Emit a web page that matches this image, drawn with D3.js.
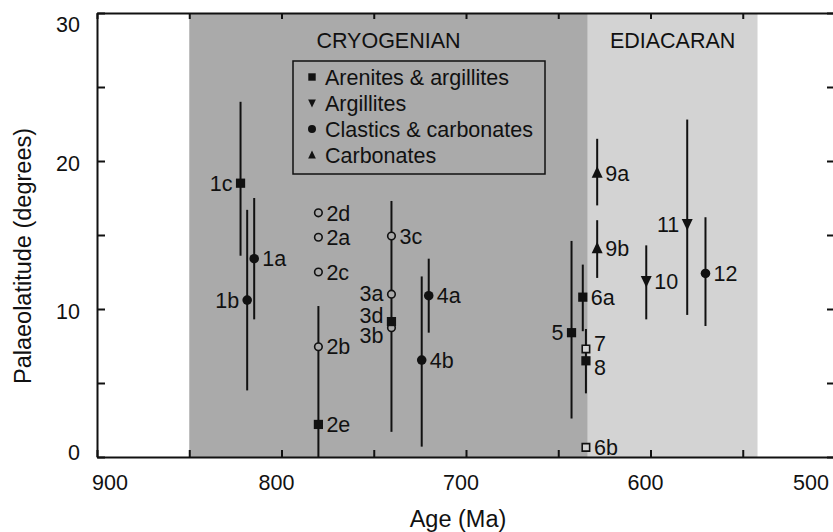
<!DOCTYPE html>
<html>
<head>
<meta charset="utf-8">
<script src="https://cdn.jsdelivr.net/npm/d3@7"></script>
<style>
  body { margin: 0; background: #fff; }
  text { font-family: "Liberation Sans", Arial, Helvetica, sans-serif; fill: #111; }
</style>
</head>
<body>
<div id="canvas"></div>
<script>
// sample ids, ages (Ma), palaeolatitudes and error ranges
const ids   = ["1a","1b","1c","2a","2b","2c","2d","2e","3a","3b","3c","3d","4a","4b","5","6a","6b","7","8","9a","9b","10","11","12"];
const ages  = [814.8,818.6,822.2,780,780,780,780,780,740.4,740.4,740.4,740.4,720.2,724,642.8,636.7,635,635,635,628.9,628.9,602.3,580.1,570.2];
const lats  = [13.4,10.6,18.5,14.85,7.45,12.5,16.5,2.2,11.0,8.74,14.93,9.15,10.9,6.55,8.4,10.8,0.65,7.3,6.5,19.2,14.1,11.9,15.75,12.4];
const latLo = [9.3,4.5,13.6,null,0,null,null,null,null,null,1.7,null,8.4,0.7,2.6,8.5,null,4.3,null,17.0,12.1,9.3,9.6,8.85];
const latHi = [17.5,16.7,24.0,null,10.2,null,null,null,null,null,17.3,null,13.4,12.2,14.6,13.0,null,8.65,null,21.5,16.0,14.3,22.8,16.2];
// lithology: aa = arenites & argillites, arg = argillites, cc = clastics & carbonates, carb = carbonates
const lith  = ["cc","cc","aa","cc","cc","cc","cc","aa","cc","cc","cc","aa","cc","cc","aa","aa","aa","aa","aa","carb","carb","arg","arg","cc"];
const filled = [1,1,1,0,0,0,0,1,0,0,0,1,1,1,1,1,0,0,1,1,1,1,1,1];
const labelLeft = ["1b","1c","3a","3b","3d","5","11"];

const periods = [
  {name: "CRYOGENIAN", from: 850, to: 634},
  {name: "EDIACARAN", from: 634, to: 542}
];
const legendNames = ["Arenites & argillites", "Argillites", "Clastics & carbonates", "Carbonates"];
const legendKeys = ["aa", "arg", "cc", "carb"];
const xTicks = [900, 800, 700, 600, 500];
const yTicks = [0, 10, 20, 30];

// layout
const W = 833, H = 532;
const x0 = 97, x1 = 835, y0 = 457, y1 = 13;
const dark = "#aaaaaa", light = "#d3d3d3";
const fs = 21.5;
const labelNudge = {"3a": -1, "3d": -6, "3b": 8, "7": -6, "8": 6};

const svg = d3.select("#canvas").append("svg")
  .attr("width", W).attr("height", H);

const x = d3.scaleLinear().domain([900, 500]).range([x0, x1]);
const y = d3.scaleLinear().domain([0, 30]).range([y0, y1]);

// period shading
svg.append("g").selectAll("rect").data(periods).enter().append("rect")
  .attr("x", d => x(d.from))
  .attr("y", y1)
  .attr("width", d => x(d.to) - x(d.from))
  .attr("height", y0 - y1)
  .attr("fill", (d, i) => i === 0 ? dark : light);

svg.append("g").selectAll("text").data(periods).enter().append("text")
  .attr("x", d => (x(d.from) + x(d.to)) / 2)
  .attr("y", 48)
  .attr("text-anchor", "middle")
  .attr("font-size", fs)
  .text(d => d.name);

// axes (ticks inward, labels drawn separately)
function styleAxis(g) {
  g.selectAll("path").attr("stroke", "#111").attr("stroke-width", 2);
  g.selectAll("line").attr("stroke", "#111").attr("stroke-width", 2);
  g.selectAll("text").remove();
}
const xt = d3.range(900, 499, -50);
const yt = d3.range(0, 31, 5);
svg.append("g").attr("transform", `translate(0,${y0})`)
  .call(d3.axisBottom(x).tickValues(xt).tickSizeInner(-7).tickSizeOuter(0)).call(styleAxis);
svg.append("g").attr("transform", `translate(0,${y1})`)
  .call(d3.axisTop(x).tickValues(xt).tickSizeInner(-6).tickSizeOuter(0)).call(styleAxis);
svg.append("g").attr("transform", `translate(${x0},0)`)
  .call(d3.axisLeft(y).tickValues(yt).tickSizeInner(-8).tickSizeOuter(0)).call(styleAxis);
svg.append("g").attr("transform", `translate(${x1},0)`)
  .call(d3.axisRight(y).tickValues(yt).tickSizeInner(-8).tickSizeOuter(0)).call(styleAxis);

svg.append("g").selectAll("text").data(xTicks).enter().append("text")
  .attr("x", d => Math.max(x0 + 13, Math.min(x1 - 24, x(d) - 5)))
  .attr("y", 490)
  .attr("text-anchor", "middle")
  .attr("font-size", fs)
  .text(d => d);

svg.append("g").selectAll("text").data(yTicks).enter().append("text")
  .attr("x", 80)
  .attr("y", d => Math.max(32, Math.min(460, y(d) + 10)))
  .attr("text-anchor", "end")
  .attr("font-size", fs)
  .text(d => d);

svg.append("text")
  .attr("x", 458).attr("y", 527)
  .attr("text-anchor", "middle")
  .attr("font-size", 23.5)
  .text("Age (Ma)");

svg.append("text")
  .attr("transform", "translate(31,256) rotate(-90)")
  .attr("text-anchor", "middle")
  .attr("font-size", 23.5)
  .text("Palaeolatitude (degrees)");

// symbols
function symbolPath(key, size) {
  if (key === "aa") return d3.symbol(d3.symbolSquare, size)();
  if (key === "cc") return d3.symbol(d3.symbolCircle, size)();
  if (key === "carb") return "M0,-6.5L5.5,5L-5.5,5Z";
  return "M0,6.5L5.5,-5L-5.5,-5Z";
}

// legend
const lg = svg.append("g");
lg.append("rect")
  .attr("x", 293).attr("y", 61).attr("width", 252).attr("height", 113)
  .attr("fill", "none").attr("stroke", "#111").attr("stroke-width", 1.5);
legendNames.forEach((n, i) => {
  const ly = 77 + i * 26;
  const k = legendKeys[i];
  lg.append("path")
    .attr("transform", `translate(312,${ly})` + (k === "carb" || k === "arg" ? " scale(0.7)" : ""))
    .attr("d", symbolPath(k, k === "aa" ? 55 : 50))
    .attr("fill", "#111");
  lg.append("text")
    .attr("x", 325).attr("y", ly).attr("dy", "0.36em")
    .attr("font-size", fs)
    .text(n);
});

// data rows
const rows = ids.map((id, i) => ({
  id: id, age: ages[i], lat: lats[i], lo: latLo[i], hi: latHi[i],
  lith: lith[i], filled: filled[i] === 1, left: labelLeft.includes(id)
}));

svg.append("g").selectAll("line")
  .data(rows.filter(d => d.lo !== null))
  .enter().append("line")
  .attr("x1", d => x(d.age)).attr("x2", d => x(d.age))
  .attr("y1", d => y(d.lo)).attr("y2", d => y(d.hi))
  .attr("stroke", "#111").attr("stroke-width", 2);

svg.append("g").selectAll("path")
  .data(rows).enter().append("path")
  .attr("transform", d => `translate(${x(d.age)},${y(d.lat)})`)
  .attr("d", d => d.filled ? symbolPath(d.lith, d.lith === "aa" ? 85 : 72) : symbolPath(d.lith, d.lith === "aa" ? 55 : 45))
  .attr("fill", d => d.filled ? "#111" : (d.age <= 635 ? light : dark))
  .attr("stroke", d => d.filled ? "none" : "#111")
  .attr("stroke-width", 1.6);

svg.append("g").selectAll("text")
  .data(rows).enter().append("text")
  .attr("x", d => x(d.age) + (d.left ? -8 : 8))
  .attr("y", d => y(d.lat) + (labelNudge[d.id] || 0))
  .attr("dy", "0.36em")
  .attr("text-anchor", d => d.left ? "end" : "start")
  .attr("font-size", fs)
  .text(d => d.id);
</script>
</body>
</html>
